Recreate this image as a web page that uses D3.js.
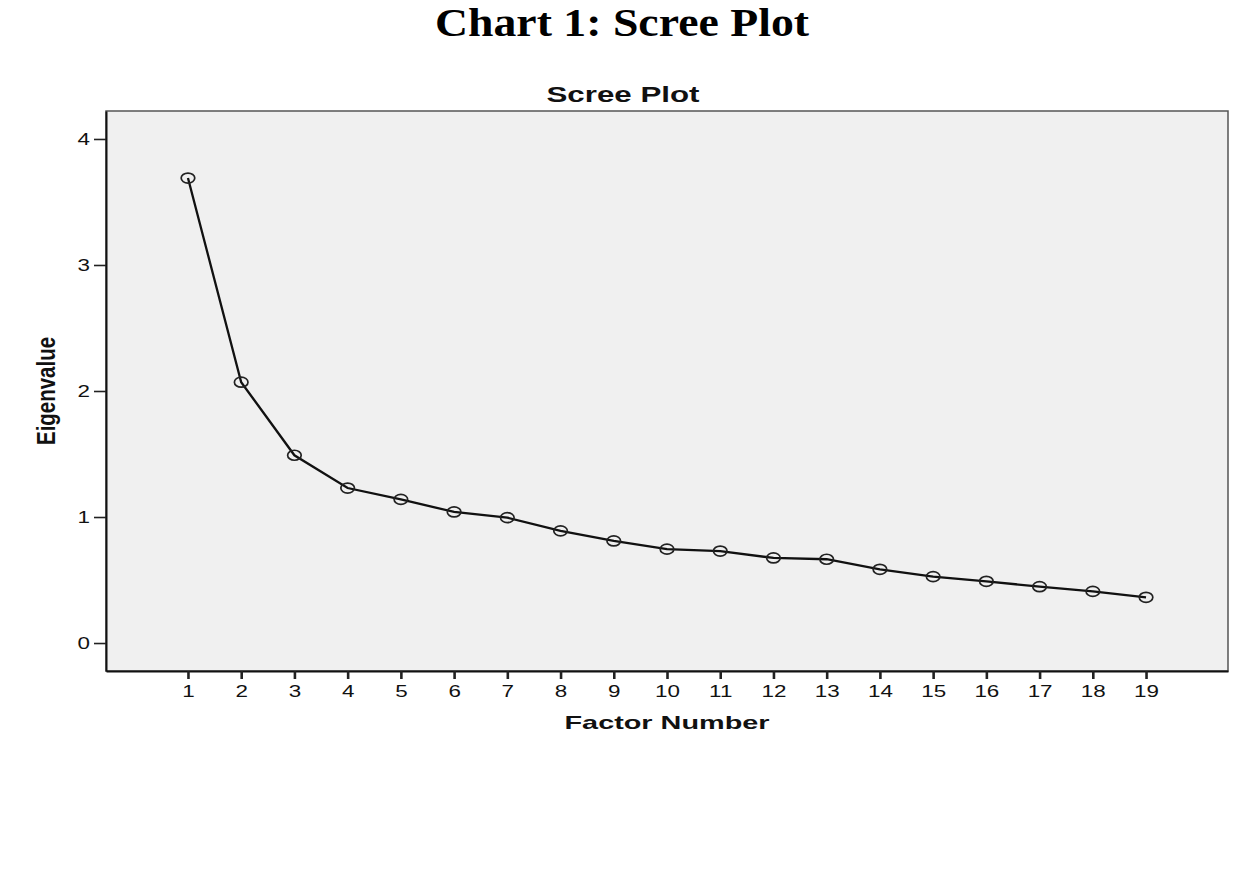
<!DOCTYPE html>
<html>
<head>
<meta charset="utf-8">
<script src="https://cdn.jsdelivr.net/npm/d3@7"></script>
<style>
  html, body { margin: 0; padding: 0; background: #ffffff; }
  svg { display: block; }
</style>
</head>
<body>
<svg id="chart" width="1245" height="875"></svg>
<script>
// ---- data ----
const factors = [1,2,3,4,5,6,7,8,9,10,11,12,13,14,15,16,17,18,19];
const eigenvalues = [3.69,2.07,1.49,1.23,1.14,1.04,0.995,0.89,0.81,0.745,0.73,0.675,0.665,0.585,0.527,0.49,0.447,0.41,0.363];
const yTicks = [0,1,2,3,4];
const xTicks = factors;
const pageTitle = "Chart 1: Scree Plot";
const plotTitle = "Scree Plot";
const xLabel = "Factor Number";
const yLabel = "Eigenvalue";

// ---- layout ----
const svg = d3.select("#chart");
const plot = {left: 106, right: 1228, top: 111, bottom: 671};
const sx = 1.4; // horizontal stretch of the original SPSS image

const x = d3.scaleLinear().domain([-0.54, 20.54]).range([plot.left, plot.right]);
const y = d3.scaleLinear().domain([-0.222, 4.222]).range([plot.bottom, plot.top]);

// page title
svg.append("text")
  .attr("x", 622).attr("y", 36)
  .attr("text-anchor", "middle")
  .attr("font-family", "'Liberation Serif', 'Times New Roman', serif")
  .attr("font-weight", "bold")
  .attr("font-size", 40)
  .attr("textLength", 374).attr("lengthAdjust", "spacingAndGlyphs")
  .attr("fill", "#000")
  .text(pageTitle);

// plot background
svg.append("rect")
  .attr("x", plot.left).attr("y", plot.top)
  .attr("width", plot.right - plot.left).attr("height", plot.bottom - plot.top)
  .attr("fill", "#f0f0f0")
  .attr("stroke", "#555")
  .attr("stroke-width", 1.5);

// plot title
svg.append("text")
  .attr("x", 623).attr("y", 102)
  .attr("text-anchor", "middle")
  .attr("font-family", "'Liberation Sans', Arial, sans-serif")
  .attr("font-weight", "bold")
  .attr("font-size", 22)
  .attr("textLength", 153).attr("lengthAdjust", "spacingAndGlyphs")
  .attr("fill", "#111")
  .text(plotTitle);

// axes
const yAxis = d3.axisLeft(y).tickValues(yTicks).tickFormat(d3.format("d"))
  .tickSizeInner(12).tickSizeOuter(0).tickPadding(4);
const gy = svg.append("g").attr("transform", `translate(${plot.left},0)`).call(yAxis);
gy.select(".domain").attr("stroke", "#111").attr("stroke-width", 2);
gy.selectAll(".tick line").attr("stroke", "#222").attr("stroke-width", 1.6);
gy.selectAll(".tick text")
  .attr("font-family", "'Liberation Sans', Arial, sans-serif")
  .attr("font-size", 16)
  .attr("fill", "#111")
  .attr("x", -16 / sx)
  .attr("transform", `scale(${sx},1)`);

const xAxis = d3.axisBottom(x).tickValues(xTicks).tickFormat(d3.format("d"))
  .tickSizeInner(8).tickSizeOuter(0).tickPadding(7);
const gx = svg.append("g").attr("transform", `translate(0,${plot.bottom})`).call(xAxis);
gx.select(".domain").attr("stroke", "#111").attr("stroke-width", 2);
gx.selectAll(".tick line").attr("stroke", "#222").attr("stroke-width", 2.6);
gx.selectAll(".tick text")
  .attr("font-family", "'Liberation Sans', Arial, sans-serif")
  .attr("font-size", 16)
  .attr("fill", "#111")
  .attr("transform", `scale(${sx},1)`);

// axis labels
svg.append("text")
  .attr("x", 667).attr("y", 729)
  .attr("text-anchor", "middle")
  .attr("font-family", "'Liberation Sans', Arial, sans-serif")
  .attr("font-weight", "bold")
  .attr("font-size", 19)
  .attr("textLength", 205).attr("lengthAdjust", "spacingAndGlyphs")
  .attr("fill", "#111")
  .text(xLabel);

svg.append("text")
  .attr("transform", `translate(55,391) scale(${sx},1) rotate(-90)`)
  .attr("text-anchor", "middle")
  .attr("font-family", "'Liberation Sans', Arial, sans-serif")
  .attr("font-weight", "bold")
  .attr("font-size", 19)
  .attr("textLength", 108).attr("lengthAdjust", "spacingAndGlyphs")
  .attr("fill", "#111")
  .text(yLabel);

// line
const data = factors.map((f, i) => ({f, v: eigenvalues[i]}));
svg.append("path")
  .datum(data)
  .attr("fill", "none")
  .attr("stroke", "#111")
  .attr("stroke-width", 2.3)
  .attr("d", d3.line().x(d => x(d.f)).y(d => y(d.v)));

// markers
svg.append("g").selectAll("ellipse")
  .data(data)
  .join("ellipse")
  .attr("cx", d => x(d.f))
  .attr("cy", d => y(d.v))
  .attr("rx", 6.8)
  .attr("ry", 5)
  .attr("fill", "none")
  .attr("stroke", "#222")
  .attr("stroke-width", 1.7);
</script>
</body>
</html>
